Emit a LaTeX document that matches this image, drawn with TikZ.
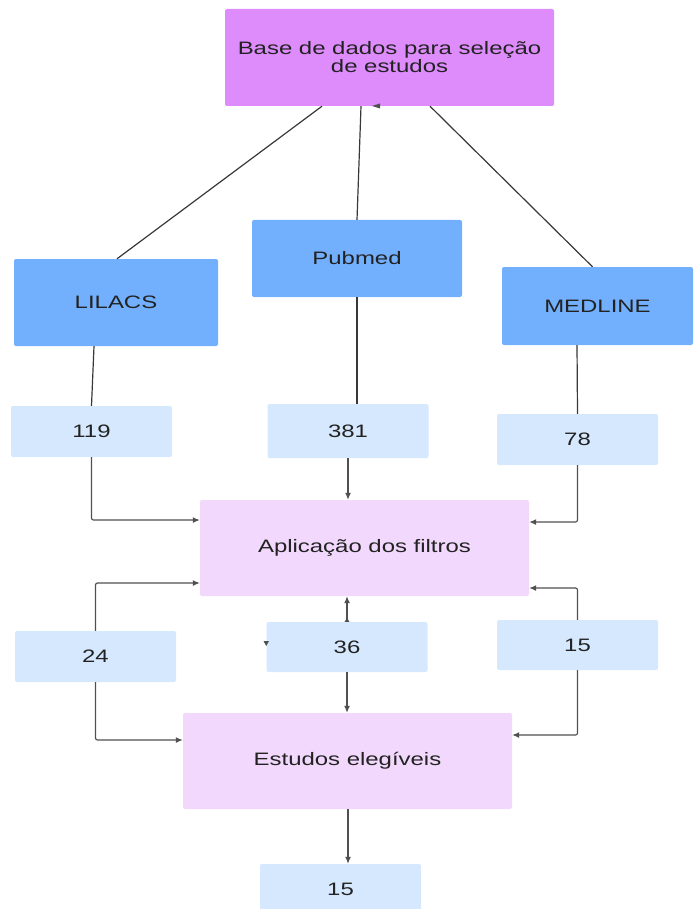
\documentclass[tikz,border=0pt]{standalone}
\usepackage{fontspec}
\setmainfont{Liberation Sans}[FakeStretch=1.33]
\usetikzlibrary{arrows.meta,calc}
\definecolor{topc}{HTML}{DE8BFC}
\definecolor{dbc}{HTML}{72B0FE}
\definecolor{numc}{HTML}{D6E8FE}
\definecolor{procc}{HTML}{F2D8FC}
\definecolor{linec}{HTML}{505050}
\definecolor{txtc}{HTML}{222222}
\begin{document}
\begin{tikzpicture}[x=1pt,y=-1pt,
  box/.style={draw=none,rounded corners=2pt,inner sep=0pt,text=txtc,align=center,
    font=\fontsize{18}{18}\selectfont},
  topbox/.style={box,fill=topc},
  dbbox/.style={box,fill=dbc},
  numbox/.style={box,fill=numc,minimum width=161pt,minimum height=51pt},
  procbox/.style={box,fill=procc,minimum width=329pt,minimum height=96pt},
  tree/.style={draw=txtc!90,line width=1.2pt},
  conn/.style={draw=linec,line width=1.2pt},
  arr/.style={conn,rounded corners=2pt,-{Latex[length=7pt,width=6pt]}},
]
\useasboundingbox (0,0) rectangle (693,909);

% boxes
\node[topbox,minimum width=329pt,minimum height=97pt] (top) at (389.5,57.5)
  {Base de dados para seleção\\de estudos};
\node[dbbox,minimum width=210pt,minimum height=77pt] (pub) at (357,258.5) {Pubmed};
\node[dbbox,minimum width=204pt,minimum height=87pt] (lil) at (116,302.5) {LILACS};
\node[dbbox,minimum width=191pt,minimum height=78pt] (med) at (597.5,306) {MEDLINE};

\node[numbox] (n119) at (91.5,431.5) {119};
\node[numbox,minimum height=54pt] (n381) at (348,431) {381};
\node[numbox] (n78) at (577.5,439.5) {78};

\node[procbox] (apl) at (364.5,548) {Aplicação dos filtros};

\node[numbox] (n24) at (95.5,656.5) {24};
\node[numbox,minimum height=50pt] (n36) at (347,647) {36};
\node[numbox,minimum height=50pt] (n15a) at (577.5,645) {15};

\node[procbox] (est) at (347.5,761) {Estudos elegíveis};

\node[numbox,minimum height=50pt] (n15b) at (340.5,889) {15};

% tree lines from top box
\draw[tree] ($(top.south)+(-67.5,0)$) -- ($(lil.north)+(1,0)$);
\draw[tree] ($(top.south)+(-28.5,0)$) -- (pub.north);
\draw[tree] ($(top.south)+(40.5,0)$) -- ($(med.north)+(-5,0)$);
% stray tip under top box
\fill[linec] (372,106) -- (380,103.5) -- (380,108.5) -- cycle;

% db to numbers
\draw[tree] ($(lil.south)+(-22,0)$) -- ($(n119.north)+(0,0)$);
\draw[tree] (pub.south) -- ($(n381.north)+(9,0)$);
\draw[tree] ($(med.south)+(-20.5,0)$) -- (n78.north);

% numbers to Aplicacao
\draw[arr] (n119.south) |- ($(apl.west)+(0,-28)$);
\draw[arr] (n381.south) -- (apl.north -| n381.south);
\draw[arr] (n78.south) |- ($(apl.east)+(0,-26)$);

% second level
\draw[arr] (n24.north) |- ($(apl.west)+(0,35)$);
\draw[arr] (n24.south) |- ($(est.west)+(0,-21)$);
\draw[conn,{Latex[length=5pt,width=5pt,reversed]}-{Latex[length=7pt,width=6pt]}] (n36.north) -- (apl.south -| n36.north);
\draw[arr] (n36.south) -- (est.north -| n36.south);
\draw[arr] (n15a.north) |- ($(apl.east)+(0,40)$);
\draw[arr] (n15a.south) |- ($(est.east)+(0,-26)$);
% stray tip left of 36
\fill[linec] (263.5,641) -- (269,641) -- (266.25,646) -- cycle;

% final
\draw[arr] ($(est.south)+(0.5,0)$) -- ($(n15b.north)+(7.5,0)$);
\end{tikzpicture}
\end{document}
